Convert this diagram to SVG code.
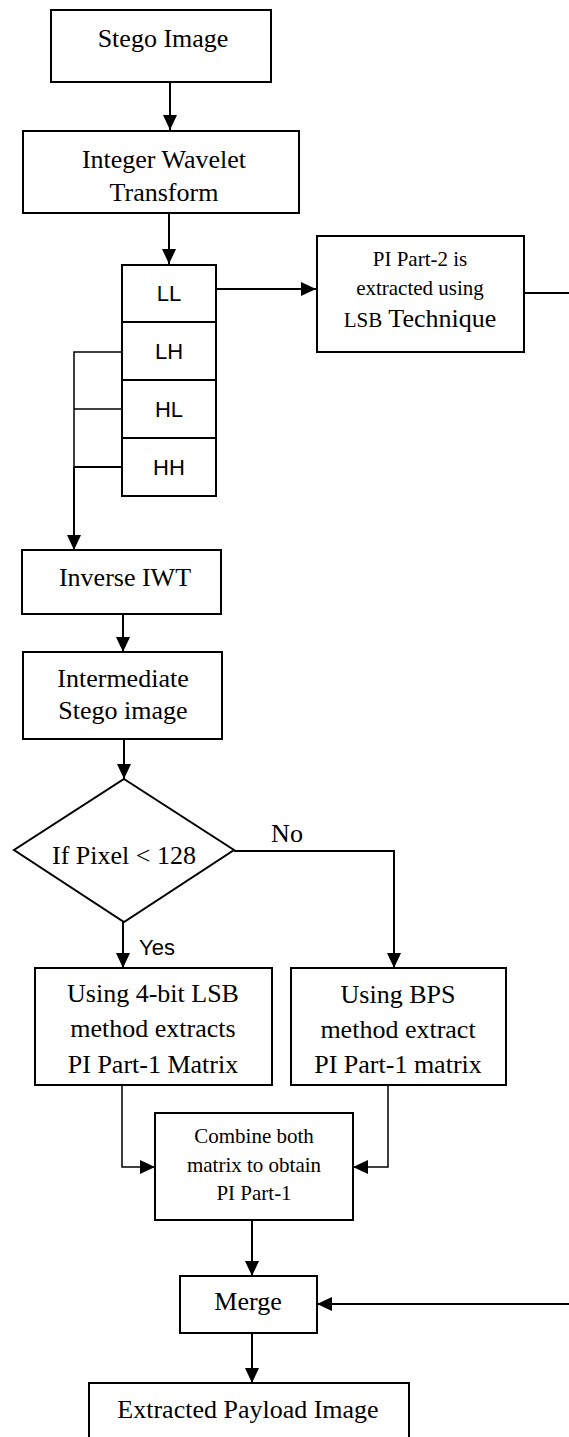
<svg xmlns="http://www.w3.org/2000/svg" width="569" height="1437" viewBox="0 0 569 1437">
<style>
.box{fill:#fff;stroke:#000;stroke-width:2}
.t{font-family:"Liberation Serif","Times New Roman",serif;font-size:26px;fill:#000;text-anchor:middle}
.s{font-size:21px}
.sans{font-family:"Liberation Sans",Arial,sans-serif;font-size:22px;fill:#000;text-anchor:middle}
.c{fill:none;stroke:#000;stroke-width:2}
.thin{fill:none;stroke:#000;stroke-width:1.5}
</style>
<defs>
<marker id="ah" markerUnits="userSpaceOnUse" markerWidth="15" markerHeight="14" refX="15" refY="7" orient="auto">
<path d="M0,0 L15,7 L0,14 z" fill="#000"/>
</marker>
</defs>
<rect width="569" height="1437" fill="#fff"/>
<g id="connectors">
<line class="c" x1="170" y1="82" x2="170" y2="130" marker-end="url(#ah)"/>
<line class="c" x1="169" y1="213" x2="169" y2="264" marker-end="url(#ah)"/>
<line class="c" x1="216" y1="289" x2="316" y2="289" marker-end="url(#ah)"/>
<line class="c" x1="524" y1="293" x2="569" y2="293"/>
<polyline class="thin" points="122,352 74,352 74,530"/>
<line class="thin" x1="74" y1="409" x2="122" y2="409"/>
<line class="c" x1="74" y1="467" x2="122" y2="467"/>
<line class="c" x1="74" y1="467" x2="74" y2="550" marker-end="url(#ah)"/>
<line class="c" x1="123" y1="614" x2="123" y2="652" marker-end="url(#ah)"/>
<line class="c" x1="124" y1="739" x2="124" y2="779" marker-end="url(#ah)"/>
<line class="c" x1="123" y1="922" x2="123" y2="968" marker-end="url(#ah)"/>
<polyline class="c" points="234,851 394,851 394,968" marker-end="url(#ah)"/>
<polyline class="thin" points="122,1085 122,1167 155,1167" marker-end="url(#ah)"/>
<polyline class="thin" points="388,1085 388,1167 353,1167" marker-end="url(#ah)"/>
<line class="c" x1="252" y1="1220" x2="252" y2="1276" marker-end="url(#ah)"/>
<line class="c" x1="569" y1="1304" x2="317" y2="1304" marker-end="url(#ah)"/>
<line class="c" x1="252" y1="1333" x2="252" y2="1383" marker-end="url(#ah)"/>
<text class="t" x="287" y="842">No</text>
<text class="sans" x="157" y="955">Yes</text>
</g>
<g id="stego">
<rect class="box" x="51" y="10" width="220" height="72"/>
<text class="t" x="163" y="47">Stego Image</text>
</g>
<g id="iwt">
<rect class="box" x="23" y="131" width="276" height="82"/>
<text class="t" x="164" y="168">Integer Wavelet</text>
<text class="t" x="164" y="201">Transform</text>
</g>
<g id="subbands">
<rect class="box" x="122" y="265" width="94" height="231"/>
<line class="c" x1="122" y1="322" x2="216" y2="322"/>
<line class="c" x1="122" y1="380" x2="216" y2="380"/>
<line class="c" x1="122" y1="438" x2="216" y2="438"/>
<text class="sans" x="169" y="301">LL</text>
<text class="sans" x="169" y="359">LH</text>
<text class="sans" x="169" y="417">HL</text>
<text class="sans" x="169" y="475">HH</text>
</g>
<g id="pi2">
<rect class="box" x="317" y="236" width="207" height="116"/>
<text class="t s" x="420" y="266">PI Part-2 is</text>
<text class="t s" x="420" y="295">extracted using</text>
<text class="t" x="420" y="327"><tspan class="s">LSB</tspan> Technique</text>
</g>
<g id="inverse">
<rect class="box" x="22" y="550" width="199" height="64"/>
<text class="t" x="125" y="586">Inverse IWT</text>
</g>
<g id="intermediate">
<rect class="box" x="23" y="652" width="199" height="87"/>
<text class="t" x="123" y="687">Intermediate</text>
<text class="t" x="123" y="719">Stego image</text>
</g>
<g id="decision">
<polygon class="box" points="124,779 234,850 124,922 14,850"/>
<text class="t" x="124" y="864">If Pixel &lt; 128</text>
</g>
<g id="lsb">
<rect class="box" x="35" y="968" width="237" height="117"/>
<text class="t" x="153" y="1002">Using 4-bit LSB</text>
<text class="t" x="153" y="1037">method extracts</text>
<text class="t" x="153" y="1073">PI Part-1 Matrix</text>
</g>
<g id="bps">
<rect class="box" x="291" y="968" width="215" height="117"/>
<text class="t" x="398" y="1003">Using BPS</text>
<text class="t" x="398" y="1038">method extract</text>
<text class="t" x="398" y="1073">PI Part-1 matrix</text>
</g>
<g id="combine">
<rect class="box" x="155" y="1113" width="198" height="107"/>
<text class="t s" x="254" y="1143">Combine both</text>
<text class="t s" x="254" y="1172">matrix to obtain</text>
<text class="t s" x="254" y="1200">PI Part-1</text>
</g>
<g id="merge">
<rect class="box" x="180" y="1276" width="137" height="57"/>
<text class="t" x="248" y="1310">Merge</text>
</g>
<g id="extracted">
<rect class="box" x="89" y="1383" width="320" height="62"/>
<text class="t" x="248" y="1418">Extracted Payload Image</text>
</g>
</svg>
